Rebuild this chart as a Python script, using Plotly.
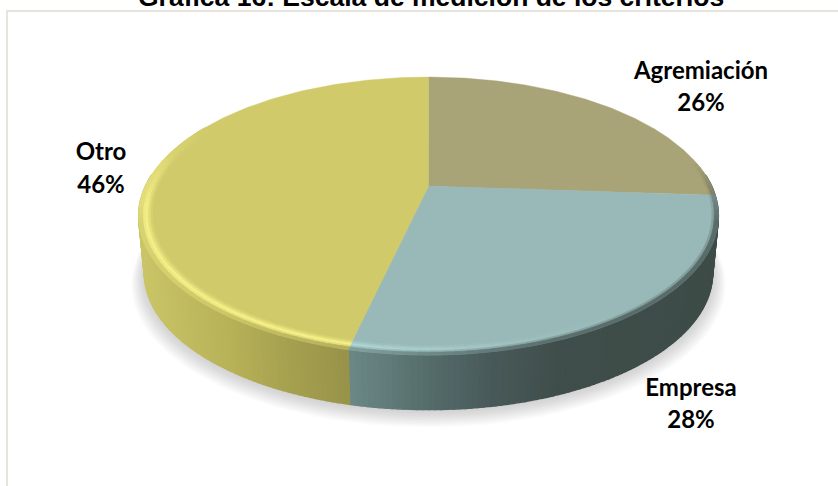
import numpy as np
import plotly.graph_objects as go

# ---- data ----
categories = ["Agremiación", "Empresa", "Otro"]
values = [26.1, 27.5, 46.4]
title_text = "Gráfica 16: Escala de medición de los criterios"

# ---- style ----
face_colors = [(168, 164, 119), (153, 185, 185), (208, 202, 107)]
hi_colors = [(168, 164, 119), (180, 220, 218), (252, 247, 140)]
side_stops_x = {
    0: ([700, 720], [(62, 76, 72), (62, 76, 72)]),
    1: ([350, 430, 490, 560, 720], [(107, 136, 134), (84, 108, 106), (73, 89, 90), (63, 78, 74), (62, 76, 72)]),
    2: ([138, 230, 290, 350], [(203, 198, 104), (183, 177, 88), (165, 160, 79), (152, 146, 74)]),
}
label_pos = {"Agremiación": (701, 73, 701, 105), "Empresa": (691, 390, 691, 422), "Otro": (101, 154, 101, 187)}

CX, CY, A, B, K = 428.5, 186, 283, 132.5, 0.216
DEPTH, BOTTOM_SCALE = 58, 0.98


def project(t, r=1.0, scale=1.0, dy=0.0):
    """t: clockwise angle in radians from 12 o'clock, r: radius fraction."""
    u, v = r * np.sin(t), r * np.cos(t)
    w = 1 + K * v
    return CX + scale * A * u / w, CY + dy - scale * B * v / w


def mix(c1, c2, f):
    return tuple(c1[i] + (c2[i] - c1[i]) * f for i in range(3))


def rgb(c):
    return "rgb(%d,%d,%d)" % tuple(int(round(x)) for x in c)


def side_color(i, x):
    xs_stop, cols = side_stops_x[i]
    return tuple(np.interp(x, xs_stop, [k[j] for k in cols]) for j in range(3))


fig = go.Figure()


def poly(x, y, color, lw=0.6):
    fig.add_trace(go.Scatter(
        x=list(x) + [x[0]], y=list(y) + [y[0]], mode="lines", fill="toself",
        fillcolor=color, line=dict(color=color, width=lw), hoverinfo="skip", showlegend=False))


# shadow
full = np.radians(np.arange(0, 361, 3))
LAYERS = 12
for i in range(LAYERS):
    f = i / (LAYERS - 1)
    px, py = project(full, 1.0, 1.025 - 0.045 * f, 68 - 8 * f)
    poly(px, py, "rgba(120,120,120,0.032)", lw=0)

# slice limits, clockwise from 12 o'clock
fracs = np.array(values, dtype=float) / sum(values)
edges = np.concatenate([[0], np.cumsum(fracs)]) * 2 * np.pi

# side wall bands
for i in range(len(values)):
    ts = np.arange(edges[i], edges[i + 1] + 1e-6, np.radians(1.0))
    ts = np.append(ts, edges[i + 1])
    for a, b in zip(ts[:-1], ts[1:]):
        if not (np.radians(85) < (a + b) / 2 < np.radians(275)):
            continue
        x1, y1 = project(a)
        x2, y2 = project(b)
        x3, y3 = project(b, 1.0, BOTTOM_SCALE, DEPTH)
        x4, y4 = project(a, 1.0, BOTTOM_SCALE, DEPTH)
        xm = (x1 + x2 + x3 + x4) / 4
        poly([x1, x2, x3, x4], [y1, y2, y3, y4], rgb(side_color(i, xm)), lw=1.5)

# top faces
for i in range(len(values)):
    ts = np.linspace(edges[i], edges[i + 1], 160)
    px, py = project(ts)
    poly([CX] + list(px), [CY] + list(py), rgb(face_colors[i]), lw=0.4)

# rounded bevel along the rim
deg_stops = [0, 145, 165, 182, 195, 262, 285, 300, 360]
light_stops = [0, 0, 0.25, 0.7, 1, 0.9, 0.2, 0, 0]
side_deg = [0, 80, 105, 255, 280, 360]
side_wgt = [0, 0, 1, 1, 0, 0]
rings = [0.955, 0.963, 0.971, 0.979, 0.987, 1.0]
step = np.radians(2)
for i in range(len(values)):
    ts = np.append(np.arange(edges[i], edges[i + 1], step), edges[i + 1])
    base = face_colors[i]
    for a, b in zip(ts[:-1], ts[1:]):
        m = np.degrees((a + b) / 2)
        lit = float(np.interp(m, deg_stops, light_stops))
        wgt = float(np.interp(m, side_deg, side_wgt))
        if lit < 0.02 and wgt < 0.02:
            continue
        mid = mix(base, hi_colors[i], lit)
        xm = project((a + b) / 2)[0]
        outer = mix(mid, side_color(i, xm), wgt)
        for j in range(len(rings) - 1):
            p = ((rings[j] + rings[j + 1]) / 2 - rings[0]) / (rings[-1] - rings[0])
            if p < 0.5:
                col = mix(base, mid, p / 0.5)
            else:
                col = mix(mid, outer, (p - 0.5) / 0.5)
            r0, r1 = rings[j], rings[j + 1]
            x1, y1 = project(a, r0)
            x2, y2 = project(b, r0)
            x3, y3 = project(b, r1)
            x4, y4 = project(a, r1)
            poly([x1, x2, x3, x4], [y1, y2, y3, y4], rgb(col), lw=0.8)

# labels
tx, ty, tt = [], [], []
for name, val in zip(categories, values):
    x1, y1, x2, y2 = label_pos[name]
    tx += [x1, x2]
    ty += [y1, y2]
    tt += ["<b>%s</b>" % name, "<b>%d%%</b>" % round(val)]
fig.add_trace(go.Scatter(x=tx, y=ty, text=tt, mode="text", textposition="middle center",
                         textfont=dict(family="Lato", size=24, color="#000000"),
                         hoverinfo="skip", showlegend=False))

# chart frame: only its left and top edges fall inside the picture
fig.add_shape(type="rect", x0=7, x1=860, y0=11, y1=520, line=dict(color="#e6e4dc", width=2),
              fillcolor="rgba(0,0,0,0)", layer="below")

# title, cut by the top edge as in the reference
fig.add_annotation(x=430.5, y=0, yshift=3.4, text="<b>%s</b>" % title_text, showarrow=False,
                   font=dict(family="Liberation Sans", size=26.5, color="#000000"),
                   xanchor="center", yanchor="middle")

fig.update_layout(
    width=838, height=486, margin=dict(l=0, r=0, t=0, b=0),
    paper_bgcolor="white", plot_bgcolor="white", showlegend=False,
    xaxis=dict(range=[0, 838], visible=False, fixedrange=True),
    yaxis=dict(range=[486, 0], visible=False, fixedrange=True),
)
fig.write_html("out.html", config={"displayModeBar": False},
               post_script="document.body.style.margin='0';document.body.style.overflow='hidden';")
